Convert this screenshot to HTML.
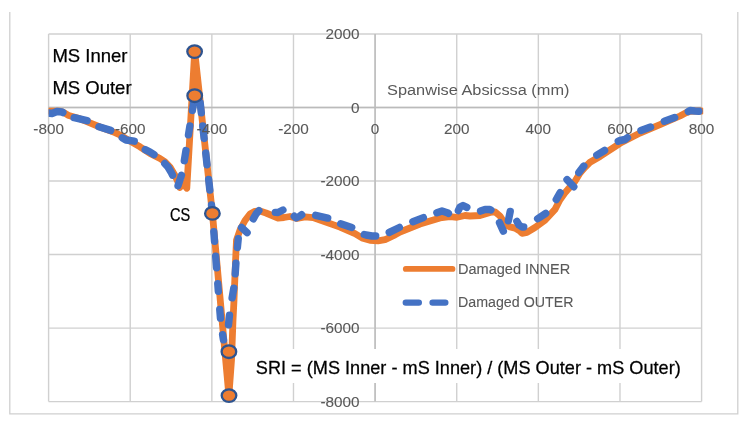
<!DOCTYPE html>
<html><head><meta charset="utf-8">
<style>
html,body{margin:0;padding:0;background:#fff;}
body{width:748px;height:424px;overflow:hidden;position:relative;font-family:"Liberation Sans",sans-serif;}
svg{position:absolute;left:0;top:0;will-change:transform;}
</style></head>
<body>
<svg width="748" height="424" viewBox="0 0 748 424">
<rect x="0" y="0" width="748" height="424" fill="#fff"/>
<path d="M9.8,12 L9.8,413.8 L737.8,413.8 L737.8,12" fill="none" stroke="#D0D0D0" stroke-width="1.3"/>
<g stroke="#D0D0D0" stroke-width="1.4" fill="none">
<line x1="48.60" y1="34.0" x2="48.60" y2="401.6"/>
<line x1="130.22" y1="34.0" x2="130.22" y2="401.6"/>
<line x1="211.85" y1="34.0" x2="211.85" y2="401.6"/>
<line x1="293.48" y1="34.0" x2="293.48" y2="401.6"/>
<line x1="375.10" y1="34.0" x2="375.10" y2="401.6"/>
<line x1="456.73" y1="34.0" x2="456.73" y2="401.6"/>
<line x1="538.35" y1="34.0" x2="538.35" y2="401.6"/>
<line x1="619.98" y1="34.0" x2="619.98" y2="401.6"/>
<line x1="701.60" y1="34.0" x2="701.60" y2="401.6"/>
<line x1="48.6" y1="34.00" x2="701.6" y2="34.00"/>
<line x1="48.6" y1="107.52" x2="701.6" y2="107.52"/>
<line x1="48.6" y1="181.04" x2="701.6" y2="181.04"/>
<line x1="48.6" y1="254.56" x2="701.6" y2="254.56"/>
<line x1="48.6" y1="328.08" x2="701.6" y2="328.08"/>
<line x1="48.6" y1="401.60" x2="701.6" y2="401.60"/>
</g>
<text transform="translate(387.0,95.0) scale(1.09,1)" font-family="Liberation Sans, sans-serif" font-size="15px" fill="#595959">Spanwise Absicssa (mm)</text>
<defs><clipPath id="pa"><rect x="48.6" y="0" width="654.6" height="424"/></clipPath></defs>
<g stroke="#BBBBBB" stroke-width="1.4"><line x1="48.6" y1="107.52" x2="701.6" y2="107.52"/><line x1="375.10" y1="34.0" x2="375.10" y2="401.6"/></g>
<g clip-path="url(#pa)">
<path d="M48.5,111.2 L60.0,111.2 L63.0,112.0 L68.0,115.2 L80.0,118.8 L85.0,120.8 L100.0,127.0 L115.0,132.6 L120.0,135.0 L130.0,141.1 L140.0,146.8 L150.0,153.4 L160.0,158.5 L165.0,161.8 L170.0,167.0 L175.0,175.5 L178.0,182.0 L179.8,187.5 L183.0,183.0 L186.8,188.2 L194.7,51.4 L212.4,213.3 L228.9,395.6 L231.5,360.0 L233.0,320.0 L234.0,300.0 L235.6,260.0 L236.5,240.0 L240.0,230.0 L245.0,220.5 L250.0,214.0 L255.0,211.3 L260.0,211.0 L266.0,213.0 L272.0,215.5 L278.0,218.0 L284.0,217.5 L290.0,216.5 L297.0,218.5 L305.0,216.8 L313.0,217.6 L320.0,220.0 L340.0,227.1 L355.0,233.7 L362.0,237.9 L370.0,240.3 L378.0,240.9 L385.0,239.7 L395.0,234.9 L400.0,232.0 L420.0,224.0 L440.0,217.9 L450.0,216.7 L457.0,217.3 L465.0,215.5 L470.0,216.0 L480.0,215.5 L490.0,212.4 L495.0,211.8 L500.0,216.0 L503.0,220.9 L506.0,225.0 L510.0,226.9 L515.0,228.1 L520.0,231.1 L522.0,233.3 L527.0,232.3 L535.0,227.5 L545.0,220.3 L555.0,209.4 L560.0,199.8 L565.0,192.8 L570.0,187.0 L575.0,181.3 L580.0,173.0 L585.0,167.2 L590.0,162.3 L600.0,156.5 L610.0,149.9 L620.0,143.3 L640.0,133.0 L660.0,124.7 L680.0,116.0 L686.0,112.8 L690.0,111.3 L695.0,111.0 L701.6,111.0" fill="none" stroke="#ED7D31" stroke-width="6.8" stroke-linejoin="round" stroke-linecap="round"/>
<path d="M48.5,113.0 L52.0,113.5 L57.0,111.5 L62.0,112.0 L67.0,115.0 L72.0,117.2 L89.7,121.3 L93.0,123.5 L96.3,126.0 L113.3,131.2 L116.5,133.5 L119.9,136.4 L126.0,140.0 L136.9,141.6 L139.5,144.5 L142.8,148.4 L150.0,152.0 L156.0,156.0 L160.0,159.0 L163.0,161.6 L168.0,167.0 L171.0,172.0 L173.7,177.6 L177.2,188.3 L182.5,172.0 L194.8,95.3 L200.0,101.0 L212.4,213.3 L219.0,300.0 L221.0,325.0 L223.9,342.5 L228.7,351.7 L228.0,330.0 L230.0,310.0 L234.5,284.0 L236.0,262.0 L238.5,236.0 L240.0,226.0 L248.5,234.0 L251.0,223.0 L256.0,214.0 L259.0,210.5 L262.0,211.0 L268.0,212.0 L273.0,212.3 L278.0,212.5 L282.0,210.5 L286.0,208.4 L290.0,212.0 L294.0,216.0 L296.0,218.0 L300.0,216.0 L304.0,213.0 L310.0,214.0 L330.3,218.7 L338.1,222.9 L354.3,228.3 L361.6,233.7 L366.0,235.0 L372.0,236.0 L378.4,236.0 L386.8,233.5 L401.8,226.3 L410.3,222.7 L425.9,216.7 L434.3,213.7 L442.0,211.0 L448.0,213.0 L451.0,215.5 L454.0,215.5 L457.2,213.0 L460.0,207.0 L463.0,205.5 L467.0,207.5 L469.0,210.0 L473.0,211.5 L478.0,212.0 L485.0,209.5 L490.0,209.5 L493.0,211.0 L496.0,215.0 L504.2,233.0 L505.6,238.0 L507.3,226.0 L510.5,210.0 L511.5,205.5 L514.0,214.0 L515.5,219.1 L519.0,225.0 L522.0,227.0 L526.4,227.0 L530.0,224.5 L535.4,220.3 L548.0,211.8 L554.9,201.9 L561.5,190.3 L564.5,177.0 L575.0,188.0 L577.2,174.7 L585.4,163.9 L590.0,160.0 L594.5,156.5 L606.9,149.1 L611.0,145.0 L615.7,142.1 L620.0,140.5 L625.0,139.5 L629.7,136.0 L638.4,131.4 L653.1,126.1 L661.8,122.1 L677.2,116.7 L685.9,112.7 L690.0,110.5 L695.0,111.0 L701.6,111.5" fill="none" stroke="#4472C4" stroke-width="7.4" stroke-linejoin="round" stroke-linecap="round" stroke-dasharray="14.93 12.55 13.23 13.51 12.38 13.81 12.70 14.40 10.14 13.94 14.16 16.66 11.07 14.83 10.25 15.99 8.87 15.79 10.89 13.99 10.09 13.23 12.50 14.73 11.71 14.74 10.81 14.94 6.39 20.47 9.54 14.96 11.63 16.05 7.60 18.09 8.80 16.69 5.24 39.96 9.79 17.51 9.79 14.35 10.72 15.75 8.94 14.83 7.63 17.94 9.96 16.68 8.19 14.91 9.03 14.81 12.31 14.26 11.68 14.48 11.67 14.16 11.24 14.63 11.31 14.32 12.30 13.15 11.53 15.42 10.73 15.75 9.30 24.70 9.52 22.97 9.52 16.57 9.80 17.47 7.95 19.96 9.81 17.94 8.16 17.13 9.04 16.72 10.09 15.30 10.23 14.98 10.92 14.98 10.90 1368.68"/>
<ellipse cx="194.6" cy="51.6" rx="7.3" ry="6.3" fill="#ED7D31" stroke="#2E5490" stroke-width="2.3"/>
<ellipse cx="194.7" cy="95.7" rx="7.3" ry="6.3" fill="#ED7D31" stroke="#2E5490" stroke-width="2.3"/>
<ellipse cx="212.4" cy="213.4" rx="7.3" ry="6.3" fill="#ED7D31" stroke="#2E5490" stroke-width="2.3"/>
<ellipse cx="228.9" cy="351.7" rx="7.3" ry="6.3" fill="#ED7D31" stroke="#2E5490" stroke-width="2.3"/>
<ellipse cx="229.0" cy="395.6" rx="7.3" ry="6.3" fill="#ED7D31" stroke="#2E5490" stroke-width="2.3"/>
</g>
<g font-family="Liberation Sans, sans-serif" font-size="15px" fill="#595959" stroke="#595959" stroke-width="0.1">
<text transform="translate(359.6,39.10) scale(1.02,1)" text-anchor="end">2000</text>
<text transform="translate(359.6,112.62) scale(1.02,1)" text-anchor="end">0</text>
<text transform="translate(359.6,186.14) scale(1.02,1)" text-anchor="end">-2000</text>
<text transform="translate(359.6,259.66) scale(1.02,1)" text-anchor="end">-4000</text>
<text transform="translate(359.6,333.18) scale(1.02,1)" text-anchor="end">-6000</text>
<text transform="translate(359.6,406.70) scale(1.02,1)" text-anchor="end">-8000</text>
<text transform="translate(48.60,134.1) scale(1.02,1)" text-anchor="middle">-800</text>
<text transform="translate(130.22,134.1) scale(1.02,1)" text-anchor="middle">-600</text>
<text transform="translate(211.85,134.1) scale(1.02,1)" text-anchor="middle">-400</text>
<text transform="translate(293.48,134.1) scale(1.02,1)" text-anchor="middle">-200</text>
<text transform="translate(375.10,134.1) scale(1.02,1)" text-anchor="middle">0</text>
<text transform="translate(456.73,134.1) scale(1.02,1)" text-anchor="middle">200</text>
<text transform="translate(538.35,134.1) scale(1.02,1)" text-anchor="middle">400</text>
<text transform="translate(619.98,134.1) scale(1.02,1)" text-anchor="middle">600</text>
<text transform="translate(701.60,134.1) scale(1.02,1)" text-anchor="middle">800</text>
</g>
<g font-family="Liberation Sans, sans-serif" font-size="18px" fill="#000" stroke="#000" stroke-width="0.25">
<text x="52.4" y="62" font-size="18.5px">MS Inner</text>
<text x="52.4" y="93.9" font-size="18.5px">MS Outer</text>
<text transform="translate(170.0,221) scale(0.81,1)">CS</text>
</g>
<rect x="250" y="349" width="436" height="34" fill="#fff"/>
<text transform="translate(255.8,373.6) scale(1.02,1)" font-family="Liberation Sans, sans-serif" font-size="17.8px" fill="#000" stroke="#000" stroke-width="0.25">SRI = (MS Inner - mS Inner) / (MS Outer - mS Outer)</text>
<line x1="405.8" y1="268.9" x2="452.5" y2="268.9" stroke="#ED7D31" stroke-width="5.8" stroke-linecap="round"/>
<line x1="405.8" y1="302.6" x2="445.3" y2="302.6" stroke="#4472C4" stroke-width="6.4" stroke-linecap="round" stroke-dasharray="13 13.8"/>
<g font-family="Liberation Sans, sans-serif" font-size="15px" fill="#595959" stroke="#595959" stroke-width="0.1">
<text transform="translate(458.0,273.7) scale(0.97,1)">Damaged INNER</text>
<text transform="translate(458.0,307) scale(0.95,1)">Damaged OUTER</text>
</g>
</svg>
</body></html>
